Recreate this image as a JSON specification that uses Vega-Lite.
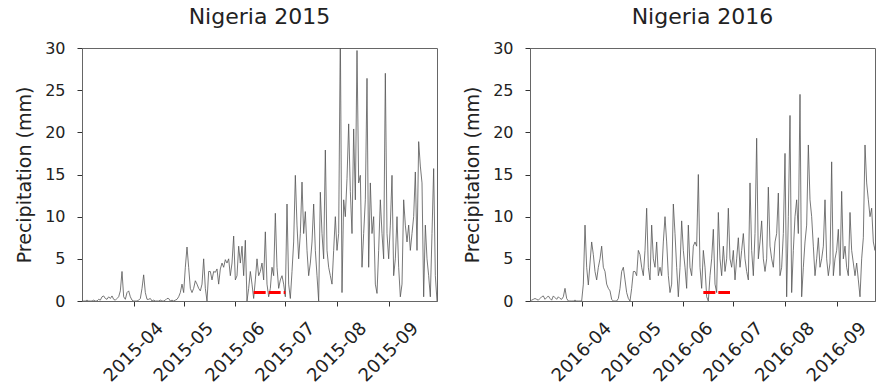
{
 "$schema": "https://vega.github.io/schema/vega-lite/v6.json",
 "padding": {"left": 15, "top": 5, "right": 0, "bottom": 0},
 "autosize": {"type": "pad"},
 "spacing": 25,
 "config": {
  "font": "DejaVu Sans",
  "view": {"stroke": "#666", "strokeWidth": 1},
  "axis": {"grid": false, "domainColor": "#666", "tickColor": "#333", "labelColor": "#222", "titleColor": "#222", "titleFontWeight": "normal", "tickSize": 5},
  "title": {"fontSize": 22, "fontWeight": "normal", "color": "#222", "offset": 11, "baseline": "alphabetic"}
 },
 "datasets": {
  "p2015": [
   {"date":"2015-03-01","p":0},{"date":"2015-03-02","p":0},{"date":"2015-03-03","p":0},{"date":"2015-03-04","p":0.1},{"date":"2015-03-05","p":0},{"date":"2015-03-06","p":0},{"date":"2015-03-07","p":0},{"date":"2015-03-08","p":0.1},{"date":"2015-03-09","p":0},{"date":"2015-03-10","p":0},{"date":"2015-03-11","p":0.2},{"date":"2015-03-12","p":0.1},{"date":"2015-03-13","p":0.5},{"date":"2015-03-14","p":0.6},{"date":"2015-03-15","p":0.3},{"date":"2015-03-16","p":0.2},{"date":"2015-03-17","p":0.5},{"date":"2015-03-18","p":0.3},{"date":"2015-03-19","p":0.6},{"date":"2015-03-20","p":0.2},{"date":"2015-03-21","p":0.1},{"date":"2015-03-22","p":0.3},{"date":"2015-03-23","p":0.5},{"date":"2015-03-24","p":1.2},{"date":"2015-03-25","p":3.5},{"date":"2015-03-26","p":0.5},{"date":"2015-03-27","p":0.2},{"date":"2015-03-28","p":1.0},{"date":"2015-03-29","p":1.2},{"date":"2015-03-30","p":0.5},{"date":"2015-03-31","p":0.1},
   {"date":"2015-04-01","p":0},{"date":"2015-04-02","p":0},{"date":"2015-04-03","p":0},{"date":"2015-04-04","p":0.1},{"date":"2015-04-05","p":0.3},{"date":"2015-04-06","p":1.5},{"date":"2015-04-07","p":3.1},{"date":"2015-04-08","p":1},{"date":"2015-04-09","p":0.2},{"date":"2015-04-10","p":0.2},{"date":"2015-04-11","p":0.3},{"date":"2015-04-12","p":0},{"date":"2015-04-13","p":0.1},{"date":"2015-04-14","p":0},{"date":"2015-04-15","p":0},{"date":"2015-04-16","p":0},{"date":"2015-04-17","p":0.1},{"date":"2015-04-18","p":0},{"date":"2015-04-19","p":0},{"date":"2015-04-20","p":0.1},{"date":"2015-04-21","p":0.3},{"date":"2015-04-22","p":0.3},{"date":"2015-04-23","p":0},{"date":"2015-04-24","p":0.1},{"date":"2015-04-25","p":0},{"date":"2015-04-26","p":0.1},{"date":"2015-04-27","p":0.2},{"date":"2015-04-28","p":0.5},{"date":"2015-04-29","p":1},{"date":"2015-04-30","p":2},
   {"date":"2015-05-01","p":1},{"date":"2015-05-02","p":4},{"date":"2015-05-03","p":6.4},{"date":"2015-05-04","p":4},{"date":"2015-05-05","p":1.5},{"date":"2015-05-06","p":1},{"date":"2015-05-07","p":1.5},{"date":"2015-05-08","p":2.4},{"date":"2015-05-09","p":2},{"date":"2015-05-10","p":1.5},{"date":"2015-05-11","p":1.2},{"date":"2015-05-12","p":2},{"date":"2015-05-13","p":5},{"date":"2015-05-14","p":1.5},{"date":"2015-05-15","p":0},{"date":"2015-05-16","p":3.5},{"date":"2015-05-17","p":3.5},{"date":"2015-05-18","p":2.5},{"date":"2015-05-19","p":3.5},{"date":"2015-05-20","p":3.4},{"date":"2015-05-21","p":3.8},{"date":"2015-05-22","p":2},{"date":"2015-05-23","p":3.8},{"date":"2015-05-24","p":4.5},{"date":"2015-05-25","p":4},{"date":"2015-05-26","p":4.9},{"date":"2015-05-27","p":4.5},{"date":"2015-05-28","p":5},{"date":"2015-05-29","p":3},{"date":"2015-05-30","p":4.5},{"date":"2015-05-31","p":7.7},
   {"date":"2015-06-01","p":2.5},{"date":"2015-06-02","p":3},{"date":"2015-06-03","p":6.5},{"date":"2015-06-04","p":4.5},{"date":"2015-06-05","p":6.5},{"date":"2015-06-06","p":3},{"date":"2015-06-07","p":7.2},{"date":"2015-06-08","p":0},{"date":"2015-06-09","p":1.5},{"date":"2015-06-10","p":3.5},{"date":"2015-06-11","p":2},{"date":"2015-06-12","p":0.3},{"date":"2015-06-13","p":2.5},{"date":"2015-06-14","p":5},{"date":"2015-06-15","p":3},{"date":"2015-06-16","p":3.5},{"date":"2015-06-17","p":4.5},{"date":"2015-06-18","p":2.5},{"date":"2015-06-19","p":8.2},{"date":"2015-06-20","p":2},{"date":"2015-06-21","p":0.5},{"date":"2015-06-22","p":1.5},{"date":"2015-06-23","p":4},{"date":"2015-06-24","p":3},{"date":"2015-06-25","p":10.4},{"date":"2015-06-26","p":4},{"date":"2015-06-27","p":1.5},{"date":"2015-06-28","p":2.5},{"date":"2015-06-29","p":3},{"date":"2015-06-30","p":2},
   {"date":"2015-07-01","p":0.5},{"date":"2015-07-02","p":11.5},{"date":"2015-07-03","p":2},{"date":"2015-07-04","p":0.3},{"date":"2015-07-05","p":3.5},{"date":"2015-07-06","p":7},{"date":"2015-07-07","p":14.9},{"date":"2015-07-08","p":9},{"date":"2015-07-09","p":5},{"date":"2015-07-10","p":8},{"date":"2015-07-11","p":14.1},{"date":"2015-07-12","p":8},{"date":"2015-07-13","p":10.6},{"date":"2015-07-14","p":6},{"date":"2015-07-15","p":3},{"date":"2015-07-16","p":4.5},{"date":"2015-07-17","p":7},{"date":"2015-07-18","p":11.5},{"date":"2015-07-19","p":6},{"date":"2015-07-20","p":3},{"date":"2015-07-21","p":0},{"date":"2015-07-22","p":12.9},{"date":"2015-07-23","p":8},{"date":"2015-07-24","p":5},{"date":"2015-07-25","p":17.9},{"date":"2015-07-26","p":6},{"date":"2015-07-27","p":4},{"date":"2015-07-28","p":3},{"date":"2015-07-29","p":2},{"date":"2015-07-30","p":6},{"date":"2015-07-31","p":10},
   {"date":"2015-08-01","p":6},{"date":"2015-08-02","p":8},{"date":"2015-08-03","p":32},{"date":"2015-08-04","p":1},{"date":"2015-08-05","p":12},{"date":"2015-08-06","p":10},{"date":"2015-08-07","p":14.5},{"date":"2015-08-08","p":21},{"date":"2015-08-09","p":13},{"date":"2015-08-10","p":8},{"date":"2015-08-11","p":20.4},{"date":"2015-08-12","p":12},{"date":"2015-08-13","p":29.7},{"date":"2015-08-14","p":14},{"date":"2015-08-15","p":14.9},{"date":"2015-08-16","p":4},{"date":"2015-08-17","p":8},{"date":"2015-08-18","p":12},{"date":"2015-08-19","p":26.4},{"date":"2015-08-20","p":4},{"date":"2015-08-21","p":14},{"date":"2015-08-22","p":8},{"date":"2015-08-23","p":10},{"date":"2015-08-24","p":2},{"date":"2015-08-25","p":0.9},{"date":"2015-08-26","p":6},{"date":"2015-08-27","p":12},{"date":"2015-08-28","p":8},{"date":"2015-08-29","p":5},{"date":"2015-08-30","p":27},{"date":"2015-08-31","p":8},
   {"date":"2015-09-01","p":5},{"date":"2015-09-02","p":9},{"date":"2015-09-03","p":14.9},{"date":"2015-09-04","p":3},{"date":"2015-09-05","p":5},{"date":"2015-09-06","p":10},{"date":"2015-09-07","p":4},{"date":"2015-09-08","p":0.5},{"date":"2015-09-09","p":2},{"date":"2015-09-10","p":12},{"date":"2015-09-11","p":9},{"date":"2015-09-12","p":7},{"date":"2015-09-13","p":9},{"date":"2015-09-14","p":6},{"date":"2015-09-15","p":8},{"date":"2015-09-16","p":10},{"date":"2015-09-17","p":15.3},{"date":"2015-09-18","p":6},{"date":"2015-09-19","p":18.9},{"date":"2015-09-20","p":16},{"date":"2015-09-21","p":14},{"date":"2015-09-22","p":0.5},{"date":"2015-09-23","p":9},{"date":"2015-09-24","p":5},{"date":"2015-09-25","p":3},{"date":"2015-09-26","p":0.5},{"date":"2015-09-27","p":8},{"date":"2015-09-28","p":15.7},{"date":"2015-09-29","p":3},{"date":"2015-09-30","p":0}
  ],
  "p2016": [
   {"date":"2016-03-01","p":0},{"date":"2016-03-02","p":0.1},{"date":"2016-03-03","p":0.2},{"date":"2016-03-04","p":0.3},{"date":"2016-03-05","p":0.2},{"date":"2016-03-06","p":0.1},{"date":"2016-03-07","p":0.3},{"date":"2016-03-08","p":0.5},{"date":"2016-03-09","p":0.6},{"date":"2016-03-10","p":0.2},{"date":"2016-03-11","p":0.4},{"date":"2016-03-12","p":0.6},{"date":"2016-03-13","p":0.3},{"date":"2016-03-14","p":0.1},{"date":"2016-03-15","p":0.6},{"date":"2016-03-16","p":0.4},{"date":"2016-03-17","p":0.2},{"date":"2016-03-18","p":0.5},{"date":"2016-03-19","p":0.3},{"date":"2016-03-20","p":0.2},{"date":"2016-03-21","p":0.5},{"date":"2016-03-22","p":1.5},{"date":"2016-03-23","p":0.3},{"date":"2016-03-24","p":0},{"date":"2016-03-25","p":0},{"date":"2016-03-26","p":0},{"date":"2016-03-27","p":0},{"date":"2016-03-28","p":0.1},{"date":"2016-03-29","p":0},{"date":"2016-03-30","p":0},{"date":"2016-03-31","p":0},
   {"date":"2016-04-01","p":0},{"date":"2016-04-02","p":2},{"date":"2016-04-03","p":9},{"date":"2016-04-04","p":4},{"date":"2016-04-05","p":1.9},{"date":"2016-04-06","p":4.5},{"date":"2016-04-07","p":7},{"date":"2016-04-08","p":5.5},{"date":"2016-04-09","p":3.5},{"date":"2016-04-10","p":2.5},{"date":"2016-04-11","p":4},{"date":"2016-04-12","p":5},{"date":"2016-04-13","p":6.5},{"date":"2016-04-14","p":4},{"date":"2016-04-15","p":3.5},{"date":"2016-04-16","p":2},{"date":"2016-04-17","p":1.5},{"date":"2016-04-18","p":1.2},{"date":"2016-04-19","p":0.2},{"date":"2016-04-20","p":0},{"date":"2016-04-21","p":0},{"date":"2016-04-22","p":0},{"date":"2016-04-23","p":0.3},{"date":"2016-04-24","p":1.5},{"date":"2016-04-25","p":3.5},{"date":"2016-04-26","p":4},{"date":"2016-04-27","p":2.5},{"date":"2016-04-28","p":1},{"date":"2016-04-29","p":0.3},{"date":"2016-04-30","p":0},
   {"date":"2016-05-01","p":1.5},{"date":"2016-05-02","p":3.5},{"date":"2016-05-03","p":3.5},{"date":"2016-05-04","p":3},{"date":"2016-05-05","p":6},{"date":"2016-05-06","p":5.5},{"date":"2016-05-07","p":4},{"date":"2016-05-08","p":3},{"date":"2016-05-09","p":6},{"date":"2016-05-10","p":11},{"date":"2016-05-11","p":4},{"date":"2016-05-12","p":2.5},{"date":"2016-05-13","p":9},{"date":"2016-05-14","p":5},{"date":"2016-05-15","p":4},{"date":"2016-05-16","p":7},{"date":"2016-05-17","p":3},{"date":"2016-05-18","p":4},{"date":"2016-05-19","p":3},{"date":"2016-05-20","p":7},{"date":"2016-05-21","p":10},{"date":"2016-05-22","p":7},{"date":"2016-05-23","p":3},{"date":"2016-05-24","p":1},{"date":"2016-05-25","p":2},{"date":"2016-05-26","p":11.5},{"date":"2016-05-27","p":8},{"date":"2016-05-28","p":4},{"date":"2016-05-29","p":0.5},{"date":"2016-05-30","p":4},{"date":"2016-05-31","p":9.5},
   {"date":"2016-06-01","p":6},{"date":"2016-06-02","p":4},{"date":"2016-06-03","p":1.5},{"date":"2016-06-04","p":9},{"date":"2016-06-05","p":4},{"date":"2016-06-06","p":3},{"date":"2016-06-07","p":6.5},{"date":"2016-06-08","p":7},{"date":"2016-06-09","p":6.5},{"date":"2016-06-10","p":15},{"date":"2016-06-11","p":4},{"date":"2016-06-12","p":1.5},{"date":"2016-06-13","p":6},{"date":"2016-06-14","p":4},{"date":"2016-06-15","p":0.5},{"date":"2016-06-16","p":0},{"date":"2016-06-17","p":3},{"date":"2016-06-18","p":5},{"date":"2016-06-19","p":8.5},{"date":"2016-06-20","p":2},{"date":"2016-06-21","p":1},{"date":"2016-06-22","p":10.5},{"date":"2016-06-23","p":5},{"date":"2016-06-24","p":3},{"date":"2016-06-25","p":6.5},{"date":"2016-06-26","p":3.5},{"date":"2016-06-27","p":5},{"date":"2016-06-28","p":11},{"date":"2016-06-29","p":5},{"date":"2016-06-30","p":4},
   {"date":"2016-07-01","p":6},{"date":"2016-07-02","p":2.5},{"date":"2016-07-03","p":5},{"date":"2016-07-04","p":7.5},{"date":"2016-07-05","p":4},{"date":"2016-07-06","p":6},{"date":"2016-07-07","p":8},{"date":"2016-07-08","p":5},{"date":"2016-07-09","p":3.5},{"date":"2016-07-10","p":2.5},{"date":"2016-07-11","p":14},{"date":"2016-07-12","p":6},{"date":"2016-07-13","p":3},{"date":"2016-07-14","p":8},{"date":"2016-07-15","p":19.3},{"date":"2016-07-16","p":5},{"date":"2016-07-17","p":7},{"date":"2016-07-18","p":9.5},{"date":"2016-07-19","p":5},{"date":"2016-07-20","p":3.5},{"date":"2016-07-21","p":5},{"date":"2016-07-22","p":13.5},{"date":"2016-07-23","p":6.5},{"date":"2016-07-24","p":5},{"date":"2016-07-25","p":4},{"date":"2016-07-26","p":7},{"date":"2016-07-27","p":8},{"date":"2016-07-28","p":12.8},{"date":"2016-07-29","p":3},{"date":"2016-07-30","p":4},{"date":"2016-07-31","p":8},
   {"date":"2016-08-01","p":17.5},{"date":"2016-08-02","p":0.5},{"date":"2016-08-03","p":10},{"date":"2016-08-04","p":22},{"date":"2016-08-05","p":1},{"date":"2016-08-06","p":6},{"date":"2016-08-07","p":10},{"date":"2016-08-08","p":12},{"date":"2016-08-09","p":8},{"date":"2016-08-10","p":24.5},{"date":"2016-08-11","p":0.5},{"date":"2016-08-12","p":4},{"date":"2016-08-13","p":7},{"date":"2016-08-14","p":9},{"date":"2016-08-15","p":18.5},{"date":"2016-08-16","p":12},{"date":"2016-08-17","p":10},{"date":"2016-08-18","p":6.5},{"date":"2016-08-19","p":3},{"date":"2016-08-20","p":5},{"date":"2016-08-21","p":7.5},{"date":"2016-08-22","p":4},{"date":"2016-08-23","p":5},{"date":"2016-08-24","p":6.5},{"date":"2016-08-25","p":12},{"date":"2016-08-26","p":5},{"date":"2016-08-27","p":3},{"date":"2016-08-28","p":4.5},{"date":"2016-08-29","p":16.5},{"date":"2016-08-30","p":3},{"date":"2016-08-31","p":5},
   {"date":"2016-09-01","p":6},{"date":"2016-09-02","p":8.5},{"date":"2016-09-03","p":3},{"date":"2016-09-04","p":13},{"date":"2016-09-05","p":5},{"date":"2016-09-06","p":6.5},{"date":"2016-09-07","p":4},{"date":"2016-09-08","p":3},{"date":"2016-09-09","p":10.5},{"date":"2016-09-10","p":6},{"date":"2016-09-11","p":4.5},{"date":"2016-09-12","p":3},{"date":"2016-09-13","p":4.5},{"date":"2016-09-14","p":2.5},{"date":"2016-09-15","p":0.5},{"date":"2016-09-16","p":5},{"date":"2016-09-17","p":7.5},{"date":"2016-09-18","p":18.5},{"date":"2016-09-19","p":14},{"date":"2016-09-20","p":12},{"date":"2016-09-21","p":10},{"date":"2016-09-22","p":11},{"date":"2016-09-23","p":7},{"date":"2016-09-24","p":6},{"date":"2016-09-25","p":8}
  ],
  "r2015": [{"date":"2015-06-12","p":1},{"date":"2015-07-01","p":1}],
  "r2016": [{"date":"2016-06-13","p":1},{"date":"2016-06-29","p":1}]
 },
 "hconcat": [
  {
   "width": 355, "height": 253,
   "title": "Nigeria 2015",
   "layer": [
    {
     "data": {"name": "p2015"},
     "mark": {"type": "line", "color": "#555", "strokeWidth": 0.8, "clip": true},
     "encoding": {
      "x": {"field": "date", "type": "temporal",
        "scale": {"type": "utc", "domain": [{"year": 2015, "month": 3, "date": 1, "utc": true}, {"year": 2015, "month": 9, "date": 30, "utc": true}]},
        "axis": {"title": null, "labelExpr": "utcFormat(datum.value, '%Y-%m')", "labelAngle": -45, "labelAlign": "center", "labelBaseline": "middle", "labelPadding": 46, "labelFontSize": 18, "labelOverlap": false,
          "values": [{"year": 2015, "month": 4, "date": 1, "utc": true}, {"year": 2015, "month": 5, "date": 1, "utc": true}, {"year": 2015, "month": 6, "date": 1, "utc": true}, {"year": 2015, "month": 7, "date": 1, "utc": true}, {"year": 2015, "month": 8, "date": 1, "utc": true}, {"year": 2015, "month": 9, "date": 1, "utc": true}]}},
      "y": {"field": "p", "type": "quantitative", "scale": {"domain": [0, 30], "nice": false},
        "axis": {"title": "Precipitation (mm)", "values": [0, 5, 10, 15, 20, 25, 30], "labelFontSize": 16, "titleFontSize": 19, "labelPadding": 12, "titlePadding": 10}}
     }
    },
    {
     "data": {"name": "r2015"},
     "mark": {"type": "line", "color": "red", "strokeWidth": 3, "strokeDash": [12, 3]},
     "encoding": {
      "x": {"field": "date", "type": "temporal"},
      "y": {"field": "p", "type": "quantitative"}
     }
    }
   ]
  },
  {
   "width": 345, "height": 253,
   "title": "Nigeria 2016",
   "layer": [
    {
     "data": {"name": "p2016"},
     "mark": {"type": "line", "color": "#555", "strokeWidth": 0.8, "clip": true},
     "encoding": {
      "x": {"field": "date", "type": "temporal",
        "scale": {"type": "utc", "domain": [{"year": 2016, "month": 3, "date": 1, "utc": true}, {"year": 2016, "month": 9, "date": 24, "utc": true}]},
        "axis": {"title": null, "labelExpr": "utcFormat(datum.value, '%Y-%m')", "labelAngle": -45, "labelAlign": "center", "labelBaseline": "middle", "labelPadding": 46, "labelFontSize": 18, "labelOverlap": false,
          "values": [{"year": 2016, "month": 4, "date": 1, "utc": true}, {"year": 2016, "month": 5, "date": 1, "utc": true}, {"year": 2016, "month": 6, "date": 1, "utc": true}, {"year": 2016, "month": 7, "date": 1, "utc": true}, {"year": 2016, "month": 8, "date": 1, "utc": true}, {"year": 2016, "month": 9, "date": 1, "utc": true}]}},
      "y": {"field": "p", "type": "quantitative", "scale": {"domain": [0, 30], "nice": false},
        "axis": {"title": "Precipitation (mm)", "values": [0, 5, 10, 15, 20, 25, 30], "labelFontSize": 16, "titleFontSize": 19, "labelPadding": 12, "titlePadding": 10}}
     }
    },
    {
     "data": {"name": "r2016"},
     "mark": {"type": "line", "color": "red", "strokeWidth": 3, "strokeDash": [12, 3]},
     "encoding": {
      "x": {"field": "date", "type": "temporal"},
      "y": {"field": "p", "type": "quantitative"}
     }
    }
   ]
  }
 ]
}
